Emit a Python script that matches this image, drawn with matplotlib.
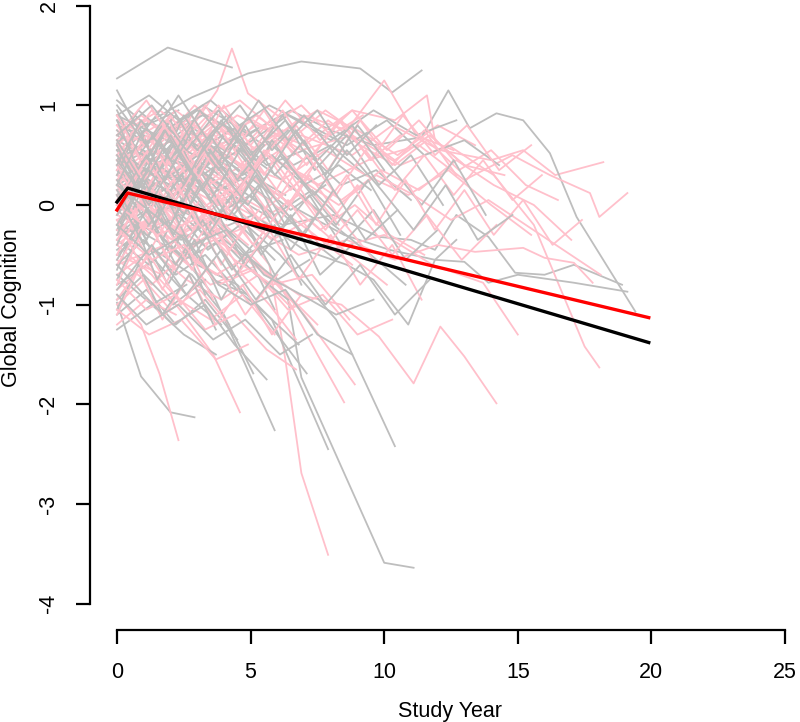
import matplotlib
matplotlib.use("Agg")
import matplotlib.pyplot as plt

# individual trajectories (study year, global cognition)
grey_years = [
    [0, 1.9, 4.3],
    [0, 1.3, 2.8, 4.9, 6.9, 9.1, 10.3, 11.4],
    [0, 1.5, 3.2, 4.8, 6.5, 8.0, 9.6, 11.4, 12.4, 13.2, 14.2, 15.2, 16.2, 17.2, 19.4],
    [0, 1.4, 2.9, 4.6, 6.2, 8.1, 9.8, 11.0, 11.9, 12.7, 13.9, 14.9, 16.0, 17.1, 18.9],
    [0, 1.7, 3.4, 5.0, 6.8, 8.5, 10.2, 11.9, 13.0, 13.9, 15.0, 17.1, 19.1],
    [0, 1.2, 3.1, 4.2, 5.3, 6.4, 6.9, 10.0, 11.1],
    [0, 1.3, 2.7, 4.4, 6.1, 8.2, 10.4],
    [0, 0.9, 2.0, 2.9],
    [0, 1.5, 3.3, 5.1, 7.0, 8.6, 9.6, 10.9, 11.9, 12.7],
    [0, 1.1, 2.4, 3.6, 4.8, 5.9],
    [0, 1.6, 3.0, 4.5, 5.8, 7.9],
    [0, 1.1, 2.2, 3.4, 4.6],
    [0, 1.0, 2.1, 3.0],
    [0, 1.3, 2.5, 3.8, 5.0, 6.3],
    [0, 0.9, 2.0, 3.1, 4.3],
    [0, 1.2, 2.4, 3.5],
    [0, 1.0, 2.2, 3.3, 4.5, 5.6, 6.8],
    [0, 1.4, 2.6, 3.9],
    [0, 1.1, 2.3],
    [0, 0.8, 1.9, 3.2, 4.4, 5.5],
    [0, 1.5, 3.0, 4.4, 5.9, 7.3, 8.6],
    [0, 1.2, 2.5, 3.7, 5.0],
    [0, 1.0, 2.0, 3.1, 4.2, 5.4],
    [0, 1.6, 3.1, 4.7, 6.2],
    [0, 0.9, 1.8, 2.9],
    [0, 1.3, 2.7, 4.0, 5.2, 6.6, 8.0, 9.3],
    [0, 1.1, 2.2, 3.3, 4.5],
    [0, 1.2, 2.4, 3.6, 4.9, 6.0, 7.1],
    [0, 1.4, 2.8, 4.0, 5.1],
    [0, 1.0, 2.0, 3.2, 4.5, 5.7, 7.0, 8.2],
    [0, 1.5, 2.9, 4.2, 5.6, 7.0, 8.4, 9.7, 11.0],
    [0, 1.2, 2.3, 3.5, 4.8],
    [0, 1.3, 2.6],
    [0, 1.1, 2.4, 3.7, 5.0, 6.2],
    [0, 0.9, 2.1, 3.3, 4.4, 5.7, 6.9, 8.1, 9.5, 10.8],
    [0, 1.4, 2.7, 4.1],
    [0, 1.2, 2.5, 3.9, 5.2, 6.4],
    [0, 1.6, 3.2, 4.8, 6.4, 8.0, 9.6, 11.2, 12.7],
    [0, 1.0, 2.1, 3.3],
    [0, 1.3, 2.6, 3.8, 5.1, 6.5, 7.8],
    [0, 1.1, 2.3, 3.4, 4.6, 5.9],
    [0, 1.5, 3.0, 4.3, 5.7, 7.2, 8.6, 10.1, 11.5, 13.0, 14.3],
    [0, 1.2, 2.4, 3.6, 4.8, 6.0, 7.2],
    [0, 0.8, 1.7, 2.8, 3.9],
    [0, 1.3, 2.5, 3.7],
    [0, 1.1, 2.3, 3.5, 4.7, 5.8, 7.0, 8.3, 9.5],
    [0, 0.8, 1.6, 2.5, 3.4, 4.3],
    [0, 1.0, 1.9, 2.9, 3.8, 4.8, 5.9, 6.9],
    [0, 0.9, 1.8, 2.8, 3.9, 5.0, 6.2, 7.4, 8.6, 9.8, 11.0, 12.2],
    [0, 1.0, 2.0, 3.0, 4.0, 5.1],
    [0, 0.7, 1.5, 2.4, 3.3],
    [0, 1.1, 2.1, 3.2, 4.3, 5.4, 6.5, 7.6, 8.8],
    [0, 0.9, 1.9, 3.0, 4.1, 5.2, 6.4],
    [0, 1.2, 2.3, 3.5, 4.7, 5.8, 7.0, 8.2, 9.4, 10.6],
    [0, 0.8, 1.7, 2.7, 3.7],
    [0, 1.0, 2.1, 3.2, 4.4, 5.5, 6.7, 7.8, 9.0, 10.2, 11.4, 12.6, 13.8],
    [0, 1.1, 2.2, 3.3, 4.4],
    [0, 0.9, 1.9, 2.9, 3.9, 4.9, 5.9],
    [0, 1.3, 2.6, 3.8, 5.0, 6.3, 7.5, 8.8, 10.0],
    [0, 1.0, 2.0, 3.1, 4.2, 5.3, 6.5, 7.6],
    [0, 0.8, 1.8, 2.8],
    [0, 1.2, 2.4, 3.6, 4.8, 6.0, 7.2, 8.4, 9.6, 10.8, 12.0],
    [0, 1.1, 2.2, 3.2, 4.3, 5.4],
    [0, 0.9, 2.0, 3.1, 4.2, 5.3, 6.4, 7.5, 8.6, 9.7],
    [0, 1.0, 1.9, 2.9, 3.9],
    [0, 1.2, 2.5, 3.7, 4.9, 6.1, 7.4, 8.6, 9.9, 11.1, 12.3, 13.5, 14.8],
    [0, 1.0, 2.0, 3.0, 4.1, 5.2, 6.3],
    [0, 0.8, 1.7, 2.6, 3.6, 4.6],
    [0, 1.1, 2.3, 3.4, 4.6, 5.8, 7.0, 8.2],
    [0, 1.3, 2.6, 3.9, 5.2, 6.5, 7.8, 9.1, 10.4, 11.7],
    [0, 0.9, 1.8, 2.8, 3.8, 4.8, 5.9, 7.0, 8.1],
    [0, 1.0, 2.1, 3.1],
    [0, 1.2, 2.3, 3.5, 4.6, 5.8, 7.0, 8.1, 9.3, 10.5],
    [0, 0.8, 1.6, 2.5, 3.5, 4.5, 5.5],
    [0, 1.2, 2.5, 3.8, 5.0, 6.3, 7.5, 8.8],
    [0, 1.0, 2.1, 3.3, 4.4, 5.6],
    [0, 1.4, 2.8, 4.1, 5.5, 6.9, 8.2, 9.6],
    [0, 1.1, 2.3, 3.6, 4.8, 6.1, 7.3],
]
grey_scores = [
    [1.27, 1.58, 1.38],
    [0.62, 0.85, 1.08, 1.32, 1.44, 1.37, 1.13, 1.35],
    [0.8, 0.65, 0.9, 0.7, 0.95, 0.75, 0.6, 0.68, 1.15, 0.77, 0.92, 0.85, 0.52, -0.12, -1.07],
    [0.35, 0.1, 0.4, 0.05, -0.2, -0.1, -0.32, -0.35, -0.45, -0.1, -0.32, -0.68, -0.70, -0.6, -0.8],
    [0.2, 0.45, 0.1, 0.3, -0.05, -0.3, -0.45, -0.55, -0.57, -0.78, -0.70, -0.78, -0.87],
    [0.4, 0.55, 0.35, 0.1, -0.4, -0.95, -1.73, -3.59, -3.64],
    [0.5, 0.2, 0.35, -0.1, -0.5, -1.15, -2.42],
    [-0.98, -1.72, -2.08, -2.13],
    [-0.2, 0.1, -0.3, -0.1, -0.45, -0.6, -0.75, -1.2, -0.55, -0.35],
    [0.1, -0.3, -0.5, -0.9, -1.6, -2.26],
    [-0.3, -0.15, -0.6, -0.8, -1.15, -2.45],
    [0.85, 0.6, 0.9, 0.55, 0.7],
    [0.45, 0.75, 0.5, 0.8],
    [0.15, 0.4, 0.25, 0.55, 0.3, 0.1],
    [-0.1, 0.2, 0.05, 0.35, 0.0],
    [-0.45, -0.2, -0.5, -0.3],
    [-0.6, -0.35, -0.7, -0.5, -0.85, -1.1, -1.4],
    [-0.8, -0.55, -0.9, -1.2],
    [1.05, 0.8, 0.95],
    [0.6, 0.95, 0.7, 1.0, 0.8, 0.6],
    [0.3, 0.1, 0.45, 0.2, -0.1, 0.15, -0.2],
    [0.0, -0.25, 0.15, -0.15, -0.45],
    [0.5, 0.3, 0.6, 0.35, 0.15, -0.2],
    [-0.25, 0.05, -0.15, -0.5, -0.35],
    [0.2, -0.05, 0.3, 0.1],
    [0.7, 0.5, 0.8, 0.55, 0.75, 0.4, 0.6, 0.3],
    [-1.1, -0.85, -1.2, -0.95, -1.35],
    [-0.35, -0.6, -0.3, -0.75, -0.9, -1.3, -1.69],
    [-0.15, -0.45, -0.7, -1.1, -1.69],
    [0.1, 0.35, 0.2, 0.5, 0.3, 0.05, -0.3, -0.55],
    [0.45, 0.7, 0.5, 0.75, 0.4, 0.55, 0.2, 0.35, 0.05],
    [0.9, 1.1, 0.85, 1.05, 0.75],
    [-0.7, -1.0, -0.8],
    [0.35, 0.05, 0.25, -0.1, 0.1, -0.25],
    [0.05, 0.3, 0.1, 0.4, 0.6, 0.35, 0.1, -0.2, -0.5, -0.8],
    [0.55, 0.3, 0.65, 0.4],
    [-0.5, -0.2, -0.55, -0.35, -0.7, -0.95],
    [0.25, 0.5, 0.3, 0.6, 0.9, 0.65, 0.95, 0.7, 0.85],
    [-0.95, -0.7, -1.0, -0.75],
    [0.65, 0.45, 0.2, 0.5, 0.25, -0.05, 0.2],
    [-0.05, -0.3, -0.1, -0.45, -0.2, -0.55],
    [0.9, 0.7, 0.95, 0.75, 1.0, 0.8, 0.6, 0.85, 0.5, 0.65, 0.4],
    [-0.3, -0.05, -0.35, -0.15, -0.5, -0.75, -0.55],
    [0.75, 0.5, 0.8, 0.6, 0.35],
    [-1.25, -1.0, -1.3, -1.5],
    [0.4, 0.15, 0.35, 0.6, 0.3, 0.5, 0.2, 0.4, 0.15],
    [0.3, 0.8, 0.35, 0.9, 0.5, 0.2],
    [-0.4, 0.2, -0.25, 0.3, -0.1, -0.6, -0.2, -0.8],
    [0.55, 0.2, 0.75, 0.3, 0.85, 0.45, 0.9, 0.35, 0.7, 0.2, 0.5, 0.0],
    [0.95, 0.4, 0.85, 0.25, 0.7, 0.35],
    [-0.65, -0.2, -0.75, -0.3, -0.9],
    [0.15, -0.35, 0.2, -0.3, 0.1, -0.5, -0.1, -0.7, -0.4],
    [1.15, 0.7, 1.05, 0.55, 0.9, 0.45, 0.75],
    [-0.1, 0.45, 0.0, 0.55, 0.1, 0.65, 0.2, -0.2, 0.25, -0.3],
    [-1.05, -0.6, -1.1, -0.7, -1.25],
    [0.5, 0.05, 0.6, 0.15, 0.7, 0.25, 0.75, 0.3, 0.8, 0.4, 0.0, 0.45, -0.1],
    [0.0, 0.5, 0.05, 0.6, 0.2],
    [-0.75, -0.25, -0.8, -0.35, -0.95, -0.5, -1.05],
    [0.7, 1.0, 0.55, 0.95, 0.5, 0.85, 0.45, 0.8, 0.35],
    [-0.25, 0.3, -0.2, 0.35, -0.15, 0.2, -0.45, -0.05],
    [0.85, 0.35, 0.75, 0.3],
    [0.25, -0.2, 0.3, -0.15, 0.25, -0.3, 0.1, -0.4, -0.05, -0.55, -0.25],
    [-0.55, -0.05, -0.6, -0.15, -0.65, -0.3],
    [0.4, 0.85, 0.45, 0.95, 0.6, 1.05, 0.65, 0.95, 0.5, 0.8],
    [0.1, -0.4, 0.05, -0.5, -0.1],
    [-0.05, 0.35, -0.1, 0.4, 0.0, 0.5, 0.1, 0.55, 0.15, -0.25, 0.2, -0.35, -0.1],
    [0.65, 0.2, 0.7, 0.25, -0.15, 0.3, -0.2],
    [-0.3, 0.15, -0.35, 0.1, -0.45, -0.85],
    [1.0, 0.6, 1.1, 0.65, 1.0, 0.55, 0.9, 0.5],
    [-0.85, -0.4, -0.9, -0.45, -0.95, -0.5, -1.0, -0.6, -1.1, -0.75],
    [0.2, 0.7, 0.25, 0.75, 0.35, 0.8, 0.3, 0.65, 0.15],
    [-0.2, 0.25, -0.3, 0.2],
    [0.45, 0.0, 0.5, 0.05, 0.55, 0.1, -0.3, 0.15, -0.35, -0.05],
    [0.6, 0.15, 0.65, 0.2, 0.7, 0.25, 0.6],
    [-0.2, -0.5, -0.3, -0.8, -1.0, -0.85, -1.3, -1.5],
    [-0.6, -0.9, -1.2, -1.0, -1.4, -1.75],
    [0.2, -0.1, -0.4, -0.25, -0.7, -0.9, -1.1, -0.95],
    [-0.9, -1.2, -1.0, -1.35, -1.15, -1.5, -1.3],
]

pink_years = [
    [0, 1.2, 2.6, 3.75, 4.3, 4.9, 6.0],
    [0, 1.4, 2.9, 4.5, 5.7, 6.3, 6.9, 7.9],
    [0, 1.8, 3.5, 5.0, 6.9, 8.8, 10.3, 12.1, 14.0, 15.2, 16.4, 18.2],
    [0, 2.0, 3.9, 5.6, 7.5, 9.4, 11.3, 13.0, 14.8, 16.2, 17.7, 18.05, 19.1],
    [0, 1.6, 3.3, 5.1, 6.9, 8.8, 10.6, 12.4, 14.1, 15.6, 17.5, 18.05],
    [0, 1.5, 3.2, 5.0, 6.8, 8.6, 10.4, 12.0, 13.4, 15.2, 16.0, 17.1, 17.8],
    [0, 1.7, 3.4, 5.2, 6.8, 8.4, 9.8, 11.1, 12.1, 13.0, 14.2],
    [0, 2.1, 4.0, 6.1, 8.0, 10.0, 11.8, 13.7, 15.0],
    [0, 1.8, 3.6, 5.3, 7.0, 8.6, 10.0, 11.2, 12.6],
    [0, 1.7, 3.5, 5.2, 7.0, 8.8, 10.4, 11.6, 11.9, 13.0, 14.5],
    [0, 0.9, 1.6, 2.3],
    [0, 1.3, 2.5, 3.6, 4.6],
    [0, 1.5, 3.0, 4.6, 6.1, 7.5, 8.5],
    [0, 1.8, 3.5, 5.3, 7.0, 8.9],
    [0, 1.2, 2.4, 3.6, 4.8],
    [0, 1.0, 2.1, 3.3, 4.4, 5.6],
    [0, 1.4, 2.8, 4.1],
    [0, 1.1, 2.3, 3.4, 4.6, 5.8, 7.0],
    [0, 1.3, 2.6, 3.9, 5.3, 6.6],
    [0, 0.9, 1.9, 3.0],
    [0, 1.2, 2.5, 3.8, 5.0, 6.3, 7.6, 8.9, 10.2, 11.5],
    [0, 1.5, 3.0, 4.5, 6.0, 7.5, 9.0, 10.5, 12.0, 13.4],
    [0, 1.0, 2.0, 3.1, 4.2],
    [0, 1.3, 2.7, 4.0, 5.4, 6.8, 8.1],
    [0, 1.1, 2.2, 3.4],
    [0, 1.4, 2.9, 4.3, 5.8, 7.2, 8.7, 10.1],
    [0, 1.2, 2.4, 3.7, 5.0, 6.2],
    [0, 1.0, 2.1, 3.2, 4.4, 5.5, 6.7, 7.9, 9.1, 10.4, 11.6, 12.8, 14.0, 15.3, 16.5],
    [0, 1.3, 2.5, 3.8],
    [0, 1.6, 3.1, 4.7, 6.2, 7.8, 9.3, 10.9, 12.4, 14.0, 15.5],
    [0, 1.1, 2.3, 3.5, 4.7, 5.9],
    [0, 0.9, 1.9, 2.9, 4.0, 5.0],
    [0, 1.4, 2.8, 4.2, 5.6, 7.0, 8.4, 9.9, 11.3, 12.7, 14.1, 15.6, 17.0],
    [0, 1.2, 2.4, 3.6, 4.9],
    [0, 1.5, 2.9, 4.4, 5.9, 7.4, 8.8],
    [0, 1.1, 2.2],
    [0, 1.3, 2.6, 3.9, 5.2, 6.5, 7.8, 9.1, 10.4, 11.7, 13.0],
    [0, 1.2, 2.5, 3.7, 5.0, 6.2, 7.5],
    [0, 1.0, 2.0, 3.0, 4.1],
    [0, 1.4, 2.8, 4.2, 5.5, 6.9, 8.3, 9.7, 11.1, 12.5, 13.9, 15.3, 16.7, 18.1],
    [0, 1.1, 2.3, 3.4, 4.6, 5.7, 6.9, 8.0, 9.2],
    [0, 0.9, 1.8, 2.8, 3.8, 4.8],
    [0, 1.0, 2.0, 3.1, 4.2, 5.3, 6.4, 7.5],
    [0, 1.1, 2.2, 3.3, 4.4, 5.5, 6.7, 7.9, 9.1, 10.3, 11.5, 12.7],
    [0, 0.8, 1.7, 2.6, 3.6],
    [0, 1.2, 2.3, 3.5, 4.7, 5.9, 7.1, 8.3],
    [0, 1.0, 2.0, 3.0, 4.0, 5.1, 6.2, 7.3, 8.4, 9.5, 10.6],
    [0, 0.9, 1.9, 2.9, 3.9, 4.9],
    [0, 1.1, 2.3, 3.5, 4.7, 5.9, 7.1, 8.3, 9.5, 10.7, 11.9, 13.1, 14.3, 15.5],
    [0, 1.0, 2.1, 3.2, 4.3],
    [0, 0.8, 1.7, 2.7, 3.7, 4.7, 5.8, 6.9],
    [0, 1.2, 2.4, 3.6, 4.8, 6.0, 7.2, 8.4, 9.6],
    [0, 1.1, 2.2, 3.3, 4.4, 5.5, 6.6],
    [0, 0.9, 1.8, 2.8, 3.8, 4.9, 6.0, 7.1, 8.2, 9.3, 10.4, 11.5, 12.6, 13.7, 14.8, 15.9],
    [0, 1.0, 2.0, 3.1, 4.2, 5.3],
    [0, 1.3, 2.5, 3.8, 5.0, 6.3, 7.6, 8.8, 10.1, 11.3, 12.6],
    [0, 0.8, 1.6, 2.5],
    [0, 1.1, 2.2, 3.4, 4.5, 5.7, 6.8, 8.0, 9.1, 10.3, 11.4],
    [0, 0.9, 1.9, 2.9, 3.9, 5.0, 6.0],
    [0, 1.0, 2.1, 3.1, 4.2, 5.3, 6.4, 7.5, 8.6, 9.7, 10.8, 11.9, 13.0, 14.1, 15.2, 16.3, 17.4],
    [0, 1.2, 2.4, 3.6, 4.8, 6.0],
    [0, 0.8, 1.7, 2.6, 3.5, 4.5, 5.5, 6.5, 7.5],
    [0, 1.1, 2.2, 3.3, 4.4, 5.6, 6.7, 7.8, 9.0, 10.1],
    [0, 1.0, 2.0, 3.0],
    [0, 1.3, 2.6, 3.8, 5.1, 6.4, 7.7, 9.0, 10.3, 11.6, 12.9, 14.2],
    [0, 0.9, 1.8, 2.8, 3.7, 4.7, 5.7, 6.7],
    [0, 1.3, 2.5, 3.8, 5.1, 6.4, 7.7, 9.0, 10.3],
    [0, 1.1, 2.2, 3.3, 4.4, 5.6, 6.7],
    [0, 1.5, 2.9, 4.4, 5.8, 7.3, 8.7],
    [0, 1.2, 2.4, 3.7, 4.9],
]
pink_scores = [
    [0.3, 0.55, 0.7, 1.15, 1.57, 1.12, 0.9],
    [0.2, 0.0, 0.3, -0.2, -0.6, -1.55, -2.69, -3.51],
    [0.5, 0.25, 0.6, 0.35, 0.7, 0.5, 0.8, 0.55, 0.45, 0.55, 0.3, 0.43],
    [0.0, 0.3, 0.15, 0.5, 0.2, 0.45, 0.6, 0.25, 0.5, 0.3, 0.12, -0.12, 0.12],
    [0.7, 0.95, 0.6, 0.85, 0.55, 0.7, 0.4, 0.6, 0.3, -0.2, -1.42, -1.63],
    [-0.3, -0.1, -0.4, -0.2, -0.5, -0.35, -0.55, -0.4, -0.47, -0.43, -0.53, -0.58, -0.78],
    [-0.5, -0.7, -0.3, -0.6, -0.9, -1.0, -1.32, -1.79, -1.22, -1.52, -1.99],
    [-0.1, -0.35, 0.05, -0.25, -0.45, -0.3, -0.6, -0.78, -1.3],
    [0.6, 0.4, 0.8, 0.55, 0.9, 0.75, 1.25, 0.7, 0.55],
    [0.45, 0.7, 0.5, 0.8, 0.6, 0.95, 0.85, 1.1, 0.65, 0.4, 0.3],
    [-0.9, -1.2, -1.7, -2.36],
    [-0.4, -0.7, -1.1, -1.5, -2.08],
    [0.1, -0.2, 0.0, -0.5, -0.8, -1.5, -1.98],
    [-0.6, -0.4, -0.8, -0.6, -1.1, -1.8],
    [0.4, 0.65, 0.45, 0.75, 0.5],
    [0.0, 0.25, -0.05, 0.2, 0.45, 0.15],
    [-0.35, -0.1, -0.4, -0.2],
    [0.75, 0.5, 0.85, 0.6, 0.4, 0.7, 0.45],
    [-0.7, -0.45, -0.75, -0.95, -0.7, -1.05],
    [0.2, 0.45, 0.3, 0.55],
    [0.15, -0.1, 0.2, 0.0, 0.3, 0.05, -0.25, 0.0, -0.3, -0.5],
    [0.55, 0.8, 0.6, 0.9, 0.7, 0.95, 0.75, 0.5, 0.8, 0.6],
    [-1.0, -0.75, -1.05, -0.85, -1.2],
    [0.3, 0.05, 0.4, 0.15, -0.15, 0.1, -0.2],
    [0.9, 0.65, 0.95, 0.7],
    [-0.2, 0.05, -0.25, 0.0, -0.35, -0.15, -0.5, -0.8],
    [0.5, 0.3, 0.6, 0.85, 0.55, 0.75],
    [0.35, 0.6, 0.4, 0.7, 0.5, 0.8, 0.55, 0.85, 0.6, 0.4, 0.65, 0.35, 0.55, 0.2, 0.05],
    [-0.55, -0.8, -0.5, -0.7],
    [0.1, 0.35, 0.15, 0.4, 0.25, 0.55, 0.3, 0.1, 0.35, 0.0, -0.3],
    [-0.85, -0.6, -0.95, -1.15, -0.9, -1.3],
    [0.65, 0.9, 0.7, 1.0, 0.75, 0.55],
    [-0.05, 0.2, 0.45, 0.2, 0.5, 0.3, 0.05, 0.35, 0.15, 0.45, 0.2, 0.0, -0.35],
    [0.25, 0.0, -0.3, -0.1, -0.4],
    [0.45, 0.2, 0.5, 0.3, 0.0, -0.3, -0.6],
    [-1.2, -0.95, -1.1],
    [0.8, 0.55, 0.85, 0.6, 0.9, 0.65, 0.95, 0.7, 0.45, 0.7, 0.4],
    [-0.4, -0.15, -0.45, -0.7, -0.5, -0.85, -1.2],
    [0.05, -0.2, 0.1, -0.15, 0.15],
    [-0.15, 0.1, -0.1, 0.15, -0.05, 0.25, 0.0, 0.3, 0.1, -0.15, 0.05, -0.2, -0.45, -0.7],
    [0.6, 0.85, 0.6, 0.9, 1.05, 0.8, 1.0, 0.7, 0.9],
    [0.35, 0.85, 0.4, 0.9, 0.45, 0.8],
    [-0.2, 0.3, -0.15, 0.35, -0.1, 0.4, 0.0, 0.45],
    [0.6, 0.15, 0.65, 0.2, 0.7, 0.3, 0.8, 0.35, 0.85, 0.4, 0.75, 0.3],
    [-0.8, -0.35, -0.85, -0.4, -0.95],
    [0.05, 0.55, 0.1, 0.6, 0.15, 0.65, 0.2, -0.2],
    [0.8, 0.4, 0.9, 0.5, 1.0, 0.55, 0.95, 0.5, 0.85, 0.45, 0.7],
    [-0.5, 0.0, -0.55, -0.05, -0.6, -0.15],
    [0.25, 0.7, 0.3, 0.75, 0.35, 0.8, 0.4, 0.85, 0.45, 0.9, 0.5, 0.8, 0.35, 0.6],
    [0.45, 0.0, 0.5, 0.05, -0.35],
    [-1.1, -0.65, -1.15, -0.7, -1.2, -0.8, -1.3, -0.9],
    [0.15, -0.3, 0.2, -0.25, 0.25, -0.2, 0.3, -0.15, -0.55],
    [0.7, 1.05, 0.6, 1.0, 0.55, 0.95, 0.5],
    [-0.1, 0.35, -0.05, 0.4, 0.0, 0.45, 0.05, 0.5, 0.1, 0.55, 0.15, 0.5, 0.1, 0.45, 0.05, 0.3],
    [-0.35, 0.1, -0.4, 0.05, -0.45, -0.05],
    [0.5, 0.95, 0.55, 1.0, 0.6, 1.05, 0.65, 0.95, 0.55, 0.85, 0.45],
    [0.1, -0.35, 0.15, -0.3],
    [-0.6, -0.15, -0.65, -0.2, -0.7, -0.25, -0.75, -0.3, -0.8, -0.4, -0.95],
    [0.9, 0.45, 0.85, 0.4, 0.75, 0.3, 0.65],
    [0.2, -0.25, 0.25, -0.2, 0.3, -0.15, 0.35, -0.1, 0.3, -0.2, 0.25, -0.25, 0.15, -0.3, 0.05, -0.4, -0.15],
    [-0.95, -0.5, -1.0, -0.55, -1.1, -0.7],
    [0.4, 0.0, 0.45, 0.05, 0.5, 0.1, 0.55, 0.15, 0.45],
    [0.0, 0.45, 0.05, 0.5, 0.1, 0.55, 0.15, -0.25, 0.2, -0.3],
    [0.65, 0.25, 0.7, 0.3],
    [-0.3, 0.15, -0.35, 0.1, -0.4, 0.05, -0.45, -0.05, -0.5, -0.1, -0.55, -0.2],
    [-0.15, -0.6, -0.2, -0.65, -0.25, -0.7, -1.0, -1.35],
    [-0.25, -0.55, -0.4, -0.8, -0.65, -1.05, -0.9, -1.3, -1.15],
    [-0.75, -1.05, -0.9, -1.25, -1.1, -1.45, -1.65],
    [0.0, -0.3, -0.15, -0.55, -0.8, -0.7, -1.15],
    [-1.05, -1.3, -1.15, -1.55, -1.4],
]

# fitted mean trajectories
mean_years = [0, 0.4, 19.9]
black_fit = [0.03, 0.17, -1.38]
red_fit = [-0.05, 0.12, -1.13]

x_ticks = [0, 5, 10, 15, 20, 25]
y_ticks = [-4, -3, -2, -1, 0, 1, 2]

plt.rcParams['font.family'] = ['Liberation Sans', 'DejaVu Sans']

fig = plt.figure(figsize=(8, 7.22), dpi=100)
ax = fig.add_axes([0.125, 0.1482, 0.875, 0.8518])

n = max(len(grey_years), len(pink_years))
for i in range(n):
    if i < len(pink_years):
        ax.plot(pink_years[i], pink_scores[i], color='#FFC0CB', lw=1.3)
    if i < len(grey_years):
        ax.plot(grey_years[i], grey_scores[i], color='#BEBEBE', lw=1.3)

ax.plot(mean_years, black_fit, color='black', lw=2.4)
ax.plot(mean_years, red_fit, color='red', lw=2.4)

ax.set_xlim(-0.636, 25.56)
ax.set_ylim(-4.114, 2.057)

for s in ['top', 'right']:
    ax.spines[s].set_visible(False)
ax.spines['left'].set_position(('outward', 7.2))
ax.spines['bottom'].set_position(('outward', 10.8))
ax.spines['left'].set_bounds(-4, 2)
ax.spines['bottom'].set_bounds(0, 25)
ax.spines['left'].set_linewidth(1.6)
ax.spines['bottom'].set_linewidth(1.6)

ax.set_xticks(x_ticks)
ax.set_yticks(y_ticks)
ax.set_yticklabels([str(v) for v in y_ticks], rotation=90, va='center')
ax.tick_params(axis='both', length=10, width=1.6, labelsize=15.5, direction='out')
ax.tick_params(axis='x', pad=13)
ax.tick_params(axis='y', pad=12)

ax.set_xlabel('Study Year', fontsize=15.5, labelpad=13)
ax.set_ylabel('Global Cognition', fontsize=15.5, labelpad=12)

fig.savefig('out.png', dpi=100)
